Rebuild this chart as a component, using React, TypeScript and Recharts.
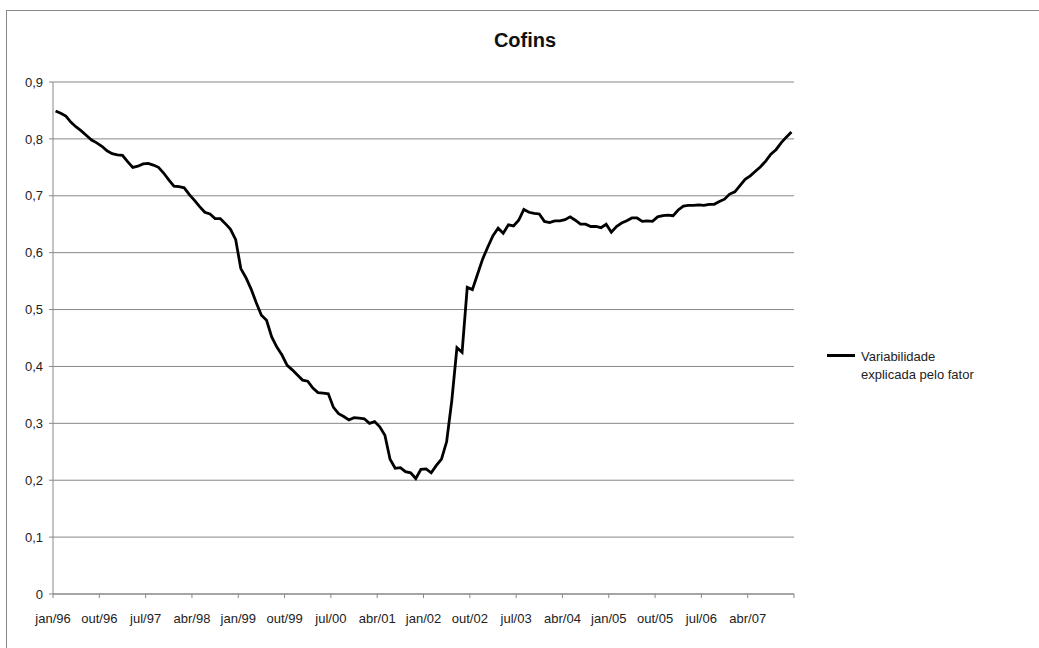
import React from 'react'
import { LineChart, Line, XAxis, YAxis, CartesianGrid } from 'recharts'

// variabilidade explicada pelo fator, mensal jan/96 - dez/07
const values = [
  0.849, 0.845, 0.840, 0.829, 0.821, 0.814, 0.806, 0.798, 0.793, 0.787, 0.779, 0.774,
  0.772, 0.771, 0.760, 0.750, 0.752, 0.756, 0.757, 0.754, 0.750, 0.740, 0.728, 0.717,
  0.716, 0.714, 0.702, 0.692, 0.681, 0.671, 0.668, 0.660, 0.660, 0.651, 0.641, 0.623,
  0.572, 0.556, 0.536, 0.512, 0.490, 0.481, 0.452, 0.434, 0.420, 0.402, 0.394, 0.385,
  0.376, 0.374, 0.362, 0.354, 0.353, 0.352, 0.328, 0.317, 0.312, 0.306, 0.310, 0.309,
  0.308, 0.300, 0.303, 0.294, 0.279, 0.237, 0.221, 0.222, 0.215, 0.213, 0.203, 0.219,
  0.220, 0.213, 0.226, 0.237, 0.268, 0.340, 0.433, 0.425, 0.539, 0.535, 0.562, 0.589,
  0.610, 0.630, 0.643, 0.634, 0.649, 0.647, 0.657, 0.676, 0.671, 0.669, 0.668, 0.655,
  0.653, 0.656, 0.656, 0.658, 0.663, 0.657, 0.650, 0.650, 0.646, 0.646, 0.644, 0.650,
  0.636, 0.646, 0.652, 0.656, 0.661, 0.661, 0.655, 0.656, 0.655, 0.663, 0.665, 0.666,
  0.665, 0.675, 0.682, 0.683, 0.683, 0.684, 0.683, 0.685, 0.685, 0.690, 0.694, 0.703,
  0.707, 0.718, 0.729, 0.735, 0.743, 0.751, 0.761, 0.773, 0.781, 0.793, 0.803, 0.812,
]

const months = ['jan', 'fev', 'mar', 'abr', 'mai', 'jun', 'jul', 'ago', 'set', 'out', 'nov', 'dez']
const startYear = 1996

const tickLabels = [
  'jan/96', 'out/96', 'jul/97', 'abr/98', 'jan/99', 'out/99', 'jul/00', 'abr/01',
  'jan/02', 'out/02', 'jul/03', 'abr/04', 'jan/05', 'out/05', 'jul/06', 'abr/07', '',
]
const xTicks = tickLabels.map((_, i) => i * 9)
const yTicks = [0, 0.1, 0.2, 0.3, 0.4, 0.5, 0.6, 0.7, 0.8, 0.9]

const title = 'Cofins'
const legendLines = ['Variabilidade', 'explicada pelo fator']

// category i sits in the middle of its band, like Excel's "between tick marks"
const data = values.map((v, i) => ({
  pos: i + 0.5,
  month: `${months[i % 12]}/${String((startYear + Math.floor(i / 12)) % 100).padStart(2, '0')}`,
  value: v,
}))

const FONT = "'Liberation Sans', Arial, sans-serif"
const GRAY = '#878787'

export default function App() {
  return (
    <div style={{ position: 'absolute', left: 0, top: 0, width: 1039, height: 648, overflow: 'hidden', background: '#fff' }}>
      <div style={{ position: 'absolute', left: 6, top: 10, width: 1100, height: 700, border: `1px solid ${GRAY}` }} />
      <div
        style={{
          position: 'absolute', left: 0, top: 30, width: 1050, textAlign: 'center',
          fontFamily: FONT, fontWeight: 'bold', fontSize: 20, lineHeight: '20px', color: '#111',
        }}
      >
        {title}
      </div>
      <div style={{ position: 'absolute', left: 0, top: 0 }}>
        <LineChart width={1039} height={648} data={data} margin={{ top: 82, right: 245, bottom: 24, left: 8 }}>
          <CartesianGrid horizontal vertical={false} stroke={GRAY} strokeWidth={1} />
          <XAxis
            type="number"
            dataKey="pos"
            domain={[0, 144]}
            ticks={xTicks}
            interval={0}
            tickFormatter={(t) => tickLabels[Math.round(t / 9)] ?? ''}
            stroke={GRAY}
            tickSize={4}
            tickMargin={16}
            height={30}
            tick={{ fill: '#222', fontSize: 13, fontFamily: FONT }}
          />
          <YAxis
            domain={[0, 0.9]}
            ticks={yTicks}
            interval={0}
            tickFormatter={(t) => (t === 0 ? '0' : t.toFixed(1).replace('.', ','))}
            stroke={GRAY}
            tickSize={4}
            tickMargin={6}
            width={45}
            tick={{ fill: '#222', fontSize: 13, fontFamily: FONT }}
          />
          <Line
            type="linear"
            dataKey="value"
            name={legendLines.join(' ')}
            stroke="#000"
            strokeWidth={2.8}
            dot={false}
            isAnimationActive={false}
          />
        </LineChart>
      </div>
      <div
        style={{
          position: 'absolute', left: 827, top: 348, display: 'flex', alignItems: 'flex-start',
          fontFamily: FONT, fontSize: 13, color: '#222',
        }}
      >
        <div style={{ width: 28, height: 3, background: '#000', marginTop: 6, marginRight: 6 }} />
        <div style={{ lineHeight: '18px' }}>
          {legendLines[0]}
          <br />
          {legendLines[1]}
        </div>
      </div>
    </div>
  )
}
